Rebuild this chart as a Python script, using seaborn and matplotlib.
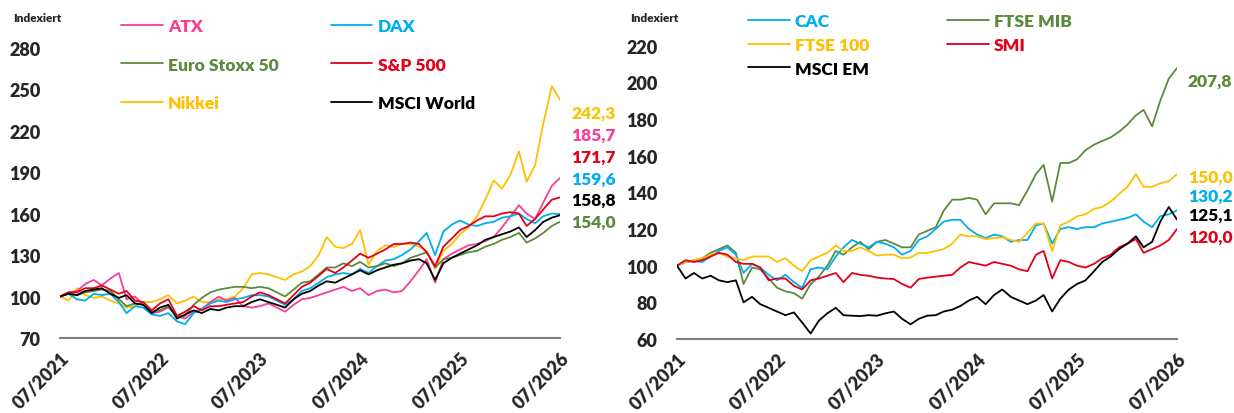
import pandas as pd
import matplotlib
matplotlib.use('Agg')
import matplotlib.pyplot as plt
import matplotlib.dates as mdates
import matplotlib.transforms as mtransforms
from matplotlib.lines import Line2D
import seaborn as sns

# Monatswerte, indexiert (07/2021 = 100)
monate = pd.date_range('2021-07-01', '2026-07-01', freq='MS')

# linkes Panel
atx = [100, 103, 104, 109, 112, 108, 113, 117, 98, 100, 94, 88,
       89, 92, 86, 84, 89, 91, 96, 100, 97, 99, 93, 92,
       93, 95, 92, 89, 94, 98, 99, 101, 103, 105, 107, 104,
       106, 101, 104, 105, 103, 104, 111, 119, 127, 110, 127, 131,
       134, 137, 138, 140, 143, 150, 158, 166, 160, 156, 168, 180,
       185.7]
dax = [100, 102, 98, 97, 102, 101, 102, 96, 88, 93, 92, 87,
       86, 88, 82, 80, 88, 91, 95, 97, 96, 98, 99, 101,
       101, 100, 97, 94, 98, 104, 106, 110, 114, 116, 117, 116,
       120, 117, 122, 126, 127, 130, 134, 140, 146, 130, 147, 152,
       155, 152, 151, 153, 154, 157, 158, 160, 156, 153, 158, 160,
       159.6]
eurostoxx = [100, 102, 101, 103, 104, 105, 104, 98, 93, 95, 94, 89,
             90, 93, 86, 86, 94, 99, 103, 105, 106, 107, 107, 106,
             107, 106, 103, 100, 105, 110, 111, 116, 121, 121, 124, 122,
             125, 121, 122, 124, 122, 124, 128, 130, 132, 121, 127, 128,
             130, 132, 133, 136, 138, 141, 143, 146, 139, 142, 146, 151,
             154.0]
sp500 = [100, 103, 103, 106, 106, 108, 105, 102, 104, 97, 96, 90,
         95, 98, 86, 89, 93, 90, 93, 93, 94, 95, 96, 100,
         103, 101, 98, 95, 101, 107, 110, 115, 120, 117, 121, 126,
         131, 128, 131, 134, 138, 138, 139, 138, 132, 122, 136, 142,
         148, 151, 155, 158, 158, 160, 161, 160, 151, 156, 163, 170,
         171.7]
nikkei = [100, 97, 106, 101, 99, 100, 97, 95, 92, 93, 96, 96,
          98, 101, 95, 97, 100, 96, 96, 98, 98, 100, 106, 116,
          117, 116, 114, 112, 116, 118, 122, 130, 143, 136, 135, 138,
          148, 123, 133, 137, 136, 138, 138, 136, 133, 120, 133, 138,
          145, 150, 158, 170, 184, 178, 188, 205, 183, 195, 225, 252,
          242.3]
msci_world = [100, 102, 101, 104, 105, 106, 102, 99, 101, 95, 94, 88,
              92, 94, 84, 87, 90, 88, 91, 90, 92, 93, 93, 96,
              98, 96, 94, 92, 98, 102, 104, 108, 111, 110, 113, 116,
              119, 116, 119, 121, 123, 124, 126, 127, 124, 112, 124, 128,
              131, 134, 137, 141, 143, 145, 147, 150, 143, 148, 154, 157,
              158.8]

# rechtes Panel
cac = [100, 102, 102.5, 102, 105, 108, 110, 106, 96, 101, 99, 95,
       92, 95, 91, 88, 98, 99, 98, 105, 110, 114, 112, 110,
       113, 112, 110, 106, 108, 114, 116, 120, 124, 125, 125, 120,
       117, 115, 117, 116, 113, 114, 114, 122, 123, 112, 120, 121,
       120, 121, 121, 123, 124, 125, 126, 128, 124, 121, 127, 128,
       130.2]
ftse_mib = [100, 102, 103, 104, 107, 109, 111, 107, 90, 99, 98, 93,
            88, 86, 85, 82, 90, 94, 100, 108, 106, 110, 113, 109,
            113, 114, 112, 110, 110, 117, 119, 121, 130, 136, 136, 137,
            136, 128, 134, 134, 134, 133, 141, 150, 155, 135, 156, 156,
            158, 163, 166, 168, 170, 173, 177, 182, 185, 176, 190, 202,
            207.8]
ftse_100 = [100, 102, 103, 104, 106, 107, 105, 104, 103, 105, 105, 105,
            102, 104, 100, 97, 103, 105, 107, 111, 108, 108, 110, 108,
            105.5, 106, 106, 104, 104.5, 107, 107, 108, 109, 112, 117, 116,
            116, 114.5, 115, 115.5, 114, 113, 118, 123, 123, 108, 122, 124,
            127, 128, 131, 132, 135, 139, 143, 150, 143, 143, 145, 146,
            150.0]
smi = [100, 103, 102, 103, 105, 107, 106, 102, 101, 101, 99, 92,
       93, 93, 89, 87, 92, 93, 94.5, 96, 91, 96, 95, 94.5,
       93.5, 93, 92.7, 90, 88, 92.7, 93.5, 94, 94.5, 95, 99, 102,
       101, 100, 102, 101, 100, 98, 97, 106, 108, 93, 103, 102,
       100, 99, 101, 104, 106, 110, 112, 114.5, 107, 109, 111, 114,
       120.0]
msci_em = [100, 93, 96, 93, 94.5, 92, 91, 92, 80, 83, 79, 77,
           75, 73, 74.5, 69, 63, 70, 74, 77, 73, 72.7, 72.5, 73,
           72.7, 74, 75, 71, 68, 71, 72.7, 73, 75, 76, 78, 81,
           83, 79, 84, 87, 83, 81, 79, 81, 84, 75, 82, 87,
           90, 92, 97, 102, 105, 109, 112, 116, 110, 113, 124, 132,
           125.1]

links = {'Nikkei': nikkei, 'ATX': atx, 'DAX': dax, 'Euro Stoxx 50': eurostoxx,
         'S&P 500': sp500, 'MSCI World': msci_world}
rechts = {'FTSE MIB': ftse_mib, 'CAC': cac, 'FTSE 100': ftse_100, 'SMI': smi,
          'MSCI EM': msci_em}

farben = {'ATX': '#F73E98', 'DAX': '#00AEEF', 'Euro Stoxx 50': '#5B8A3C',
          'S&P 500': '#E2001A', 'Nikkei': '#FFC000', 'MSCI World': '#000000',
          'CAC': '#00AEEF', 'FTSE MIB': '#5B8A3C', 'FTSE 100': '#FFC000',
          'SMI': '#E2001A', 'MSCI EM': '#000000'}

# Legendenreihenfolge (spaltenweise)
leg_links = ['ATX', 'Euro Stoxx 50', 'Nikkei', 'DAX', 'S&P 500', 'MSCI World']
leg_rechts = ['CAC', 'FTSE 100', 'MSCI EM', 'FTSE MIB', 'SMI']

# Endwerte rechts am Rand (von oben nach unten, y = Position in Daten)
lab_links = [('Nikkei', '242,3', 232.8), ('ATX', '185,7', 216.9), ('S&P 500', '171,7', 201.4),
             ('DAX', '159,6', 185.5), ('MSCI World', '158,8', 169.9), ('Euro Stoxx 50', '154,0', 154.0)]
lab_rechts = [('FTSE MIB', '207,8', 200.9), ('FTSE 100', '150,0', 148.4), ('CAC', '130,2', 138.2),
              ('MSCI EM', '125,1', 127.7), ('SMI', '120,0', 115.7)]

sns.set_style('white')
plt.rcParams['font.family'] = ['Lato', 'DejaVu Sans']
GEWICHT = 'heavy'

W, H = 1234, 414
fig = plt.figure(figsize=(W / 100, H / 100), dpi=100)
ax1 = fig.add_axes([60 / W, 1 - 339 / H, 500 / W, 329 / H])
ax2 = fig.add_axes([677 / W, 1 - 340 / H, 500 / W, 330 / H])


def zeichne(ax, serien, ylim, yticks, leg_order, labels, leg_kw, ind_x):
    df = pd.DataFrame(serien, index=monate).reset_index(names='Datum')
    df = df.melt(id_vars='Datum', var_name='Index', value_name='Wert')
    sns.lineplot(data=df, x='Datum', y='Wert', hue='Index', hue_order=list(serien),
                 palette=farben, linewidth=1.3, legend=False, ax=ax)
    ax.set_xlim(monate[0], monate[-1])
    ax.set_ylim(*ylim)
    ax.set_yticks(yticks)
    ax.set_xticks(pd.date_range('2021-07-01', '2026-07-01', freq='12MS'))
    ax.xaxis.set_major_formatter(mdates.DateFormatter('%m/%Y'))
    ax.set_xlabel('')
    ax.set_ylabel('')
    for s in ['top', 'right', 'left']:
        ax.spines[s].set_visible(False)
    ax.spines['bottom'].set_color('#808080')
    ax.spines['bottom'].set_linewidth(1.5)
    ax.tick_params(axis='x', direction='out', length=6, width=1.5, color='#808080',
                   labelsize=13, pad=2)
    ax.tick_params(axis='y', length=0, labelsize=13, pad=14)
    for lab in ax.get_xticklabels():
        lab.set_rotation(45)
        lab.set_ha('right')
        lab.set_va('top')
        lab.set_rotation_mode('anchor')
        lab.set_fontweight(GEWICHT)
    for lab in ax.get_yticklabels():
        lab.set_fontweight(GEWICHT)
    handles = [Line2D([], [], color=farben[n], lw=1.3) for n in leg_order]
    ax.legend(handles, leg_order, ncol=2, frameon=False, labelcolor='linecolor',
              prop={'weight': GEWICHT, 'size': 12.5}, handlelength=2.4,
              handletextpad=0.3, borderaxespad=0, **leg_kw)
    trans = mtransforms.blended_transform_factory(ax.transAxes, ax.transData)
    for name, txt, y in labels:
        ax.text(1.022, y, txt, transform=trans, color=farben[name], fontsize=12.5,
                fontweight=GEWICHT, ha='left', va='center')
    fig.text(ind_x / W, 1 - 18 / H, 'Indexiert', fontsize=8.5, fontweight=GEWICHT,
             ha='left', va='center')


zeichne(ax1, links, (70, 307.9), range(70, 281, 30), leg_links, lab_links,
        dict(loc='upper left', bbox_to_anchor=(54 / 500, 1 - 2 / 329),
             columnspacing=3.0, labelspacing=1.3), 13)
zeichne(ax2, rechts, (60, 240), range(60, 221, 20), leg_rechts, lab_rechts,
        dict(loc='upper left', bbox_to_anchor=(64 / 500, 1 + 3 / 330),
             columnspacing=4.5, labelspacing=0.45), 630)

fig.savefig('out.png', dpi=100)
